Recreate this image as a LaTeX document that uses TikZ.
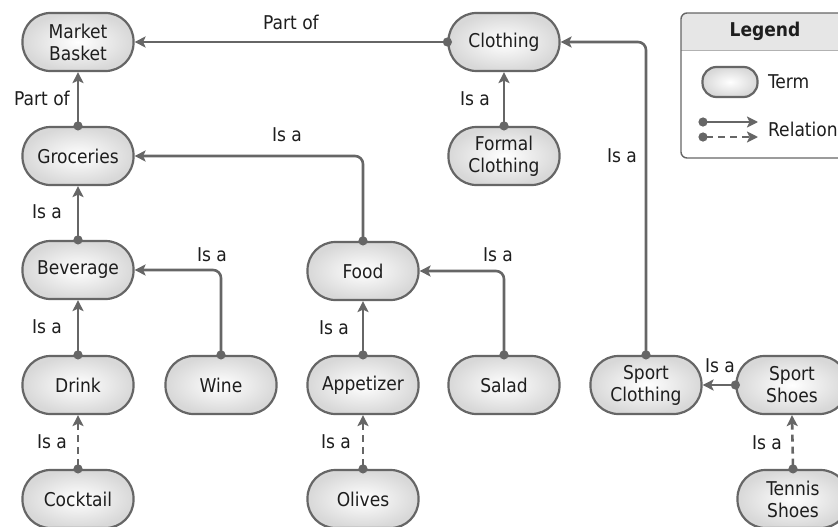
\documentclass[tikz,border=0pt]{standalone}
\usepackage{fontspec}
\setmainfont{DejaVu Sans Condensed}
\usetikzlibrary{arrows.meta}
\definecolor{edgec}{HTML}{666666}
\definecolor{fillc}{HTML}{D8D8D8}
\definecolor{txtc}{HTML}{1E1E1E}
\definecolor{headc}{HTML}{E6E6E6}
\newcommand{\termfont}{\fontsize{19}{22}\selectfont}
\begin{document}
\begin{tikzpicture}[x=1pt,y=-1pt,
  term/.style={draw=edgec, line width=2.2pt, rounded corners=28pt, minimum width=111pt, minimum height=58pt,
    inner color=white, outer color=fillc, text=txtc, align=center, font=\termfont, inner sep=2pt},
  lab/.style={text=txtc, font=\termfont, inner sep=0pt},
  rel/.style={draw=edgec, line width=2.6pt, rounded corners=8pt,
    {Circle[length=9pt,sep=-4.5pt]}-{Stealth[length=11pt,width=11pt,inset=2.5pt]}},
  dashrel/.style={rel, dash pattern=on 7pt off 5pt}
]
\useasboundingbox (0,0) rectangle (838,527);
% nodes
\node[term] (market) at (78,42) {Market\\Basket};
\node[term] (groceries) at (78,156) {Groceries};
\node[term] (beverage) at (78,270) {Beverage};
\node[term] (drink) at (78,385) {Drink};
\node[term] (cocktail) at (78,499) {Cocktail};
\node[term] (wine) at (221,385) {Wine};
\node[term] (food) at (363,271) {Food};
\node[term] (appetizer) at (363,385) {Appetizer};
\node[term] (olives) at (363,499) {Olives};
\node[term] (salad) at (504,385) {Salad};
\node[term] (clothing) at (504,42) {Clothing};
\node[term] (formal) at (504,156) {Formal\\Clothing};
\node[term] (sportcl) at (646,385) {Sport\\Clothing};
\node[term] (sportsh) at (792,385) {Sport\\Shoes};
\node[term] (tennis) at (793,499) {Tennis\\Shoes};
% connectors
\draw[rel] (clothing.west) -- (market.east);
\draw[rel] (groceries.north) -- (market.south);
\draw[rel] (food.north) |- (groceries.east);
\draw[rel] (beverage.north) -- (groceries.south);
\draw[rel] (wine.north) |- (beverage.east);
\draw[rel] (drink.north) -- (beverage.south);
\draw[dashrel] (cocktail.north) -- (drink.south);
\draw[rel] (appetizer.north) -- (food.south);
\draw[rel] (salad.north) |- (food.east);
\draw[dashrel] (olives.north) -- (appetizer.south);
\draw[rel] (formal.north) -- (clothing.south);
\draw[rel] (sportcl.north) |- (clothing.east);
\draw[rel] (sportsh.west) -- (sportcl.east);
\draw[dashrel] (tennis.north) -- (sportsh.south);
% labels
\node[lab] (l1) at (291,22) {Part of};
\node[lab] (l2) at (42,98) {Part of};
\node[lab] (l3) at (287,135) {Is a};
\node[lab] (l4) at (47,212) {Is a};
\node[lab] (l5) at (47,327) {Is a};
\node[lab] (l6) at (52,442) {Is a};
\node[lab] (l7) at (212,255) {Is a};
\node[lab] (l8) at (334,328) {Is a};
\node[lab] (l9) at (498,255) {Is a};
\node[lab] (l10) at (336,442) {Is a};
\node[lab] (l11) at (475,99) {Is a};
\node[lab] (l12) at (622,156) {Is a};
\node[lab] (l13) at (720,366) {Is a};
\node[lab] (l14) at (767,443) {Is a};
% legend
\begin{scope}
\begin{scope}
\clip[rounded corners=6pt] (681,13) rectangle (860,158);
\fill[white] (681,13) rectangle (860,158);
\fill[headc] (681,13) rectangle (860,50);
\end{scope}
\draw[draw=edgec!50, line width=0.8pt] (681,50) -- (860,50);
\draw[draw=edgec, line width=1.4pt, rounded corners=6pt] (681,13) rectangle (860,158);
\node[lab, font=\termfont\bfseries] (legt) at (765,31) {Legend};
\node[term, minimum width=55pt, minimum height=30pt, rounded corners=14pt] (legterm) at (730,82) {};
\node[lab, anchor=west] (legtermt) at (768,82) {Term};
\coordinate (ra1) at (703,122);
\coordinate (rb1) at (758,122);
\coordinate (ra2) at (703,137);
\coordinate (rb2) at (758,137);
\draw[rel] (ra1) -- (rb1);
\draw[dashrel] (ra2) -- (rb2);
\node[lab, anchor=west] (legrel) at (768,129) {Relation};
\end{scope}
\end{tikzpicture}
\end{document}
